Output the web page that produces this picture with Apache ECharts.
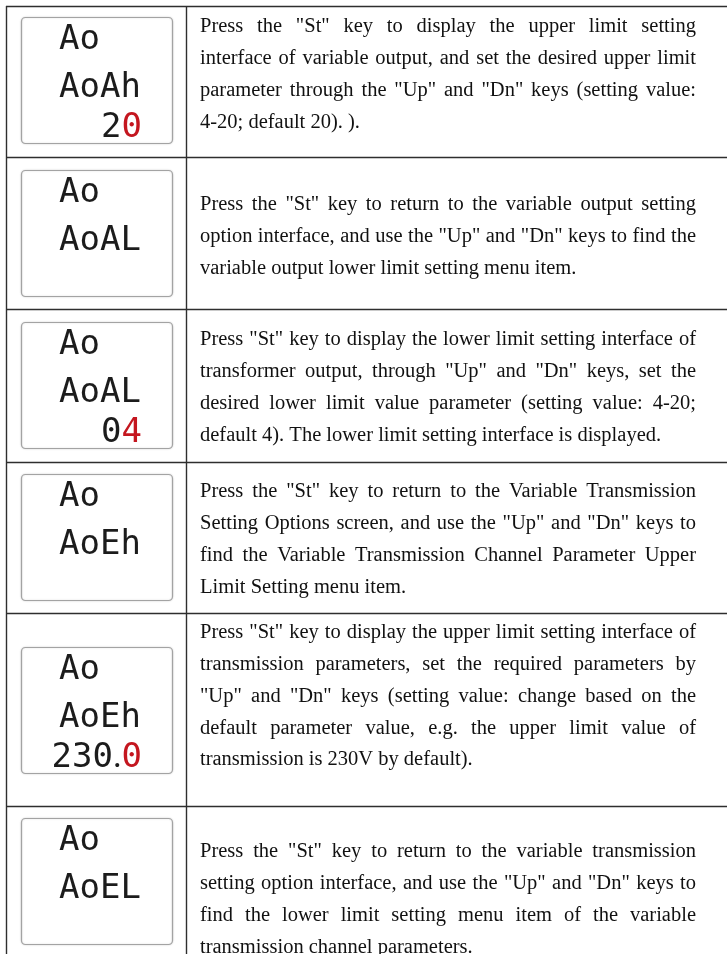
<!DOCTYPE html>
<html><head><meta charset="utf-8">
<script src="https://cdn.jsdelivr.net/npm/echarts@6/dist/echarts.min.js"></script>
<style>html,body{margin:0;padding:0;background:#fff}#c{width:727px;height:954px}</style>
</head><body><div id="c"></div>
<script>
// ---- content ----
const lcdLine1 = ['Ao', 'Ao', 'Ao', 'Ao', 'Ao', 'Ao'];
const lcdLine2 = ['AoAh', 'AoAL', 'AoAL', 'AoEh', 'AoEh', 'AoEL'];
const lcdValue = ['20', '', '04', '', '230.0', ''];
const descRow1 = ['Press the "St" key to display the upper limit setting',
  'interface of variable output, and set the desired upper limit',
  'parameter through the "Up" and "Dn" keys (setting value:',
  '4-20; default 20). ).'];
const descRow2 = ['Press the "St" key to return to the variable output setting',
  'option interface, and use the "Up" and "Dn" keys to find the',
  'variable output lower limit setting menu item.'];
const descRow3 = ['Press "St" key to display the lower limit setting interface of',
  'transformer output, through "Up" and "Dn" keys, set the',
  'desired lower limit value parameter (setting value: 4-20;',
  'default 4). The lower limit setting interface is displayed.'];
const descRow4 = ['Press the "St" key to return to the Variable Transmission',
  'Setting Options screen, and use the "Up" and "Dn" keys to',
  'find the Variable Transmission Channel Parameter Upper',
  'Limit Setting menu item.'];
const descRow5 = ['Press "St" key to display the upper limit setting interface of',
  'transmission parameters, set the required parameters by',
  '"Up" and "Dn" keys (setting value: change based on the',
  'default parameter value, e.g. the upper limit value of',
  'transmission is 230V by default).'];
const descRow6 = ['Press the "St" key to return to the variable transmission',
  'setting option interface, and use the "Up" and "Dn" keys to',
  'find the lower limit setting menu item of the variable',
  'transmission channel parameters.'];
const descRows = [descRow1, descRow2, descRow3, descRow4, descRow5, descRow6];

// ---- layout ----
const rowLineY = [6, 157, 309, 462, 613, 806];
const lcdTop = [17, 170, 322, 474, 647, 818];
const firstBaseline = [34, 212, 347, 499, 640, 859];
const LEFT = 6, DIV = 186, RIGHT = 727, BOTTOM = 954;
const TX0 = 200, TX1 = 696, LH = 31.7, FS = 20.5, FF = 'Liberation Serif';
const LCD_X = 21, LCD_W = 151, LCD_H = 126, LCD_FS = 34, LCD_FF = 'DejaVu Sans Mono';
const lineColor = '#2e2e2e';

const g = [];
// table lines
rowLineY.forEach(y => g.push({type: 'line', shape: {x1: LEFT, y1: y + 0.5, x2: RIGHT, y2: y + 0.5},
  style: {stroke: lineColor, lineWidth: 1.4}}));
[LEFT, DIV].forEach(x => g.push({type: 'line', shape: {x1: x + 0.5, y1: rowLineY[0], x2: x + 0.5, y2: BOTTOM},
  style: {stroke: lineColor, lineWidth: 1.4}}));

// LCD panels
lcdTop.forEach((t, i) => {
  g.push({type: 'rect', shape: {x: LCD_X + 0.5, y: t + 0.5, width: LCD_W, height: LCD_H, r: 4},
    style: {fill: '#fff', stroke: '#a3a3a3', lineWidth: 1.2, shadowBlur: 2, shadowColor: 'rgba(0,0,0,0.15)'}});
  const mid = LCD_FS * 0.346;
  g.push({type: 'text', x: 59, y: t + 35 - mid, style: {text: lcdLine1[i], fontSize: LCD_FS, fontFamily: LCD_FF,
    fill: '#1c1c1c', align: 'left', verticalAlign: 'middle'}});
  g.push({type: 'text', x: 59, y: t + 83 - mid, style: {text: lcdLine2[i], fontSize: LCD_FS, fontFamily: LCD_FF,
    fill: '#1c1c1c', align: 'left', verticalAlign: 'middle'}});
  const v = lcdValue[i];
  if (v) {
    const red = v.slice(-1);
    let blk = v.slice(0, -1);
    let dot = '';
    if (blk.endsWith('.')) { dot = '.'; blk = blk.slice(0, -1); }
    let txt = '{k|' + blk + '}' + (dot ? '{d|.}' : '') + '{r|' + red + '}';
    g.push({type: 'text', x: 142, y: t + 123 - mid, style: {text: txt, align: 'right', verticalAlign: 'middle',
      rich: {
        k: {fontSize: LCD_FS, fontFamily: LCD_FF, fill: '#1c1c1c', lineHeight: 40},
        d: {fontSize: LCD_FS, fontFamily: 'Liberation Sans Narrow', fill: '#1c1c1c', lineHeight: 40},
        r: {fontSize: LCD_FS, fontFamily: LCD_FF, fill: '#c4161f', lineHeight: 40}
      }}});
  }
});

// justified description text
const ctx = document.createElement('canvas').getContext('2d');
ctx.font = FS + 'px "' + FF + '"';
const spaceW = ctx.measureText(' ').width;
descRows.forEach((lines, ri) => {
  lines.forEach((line, li) => {
    const words = line.split(' ');
    const ws = words.map(w => ctx.measureText(w).width);
    const sum = ws.reduce((a, b) => a + b, 0);
    const last = li === lines.length - 1;
    const gap = (!last && words.length > 1) ? (TX1 - TX0 - sum) / (words.length - 1) : spaceW;
    const y = firstBaseline[ri] + li * LH - FS * 0.3375;
    let x = TX0;
    words.forEach((w, wi) => {
      g.push({type: 'text', x: x, y: y, style: {text: w, fontSize: FS, fontFamily: FF, fill: '#111',
        align: 'left', verticalAlign: 'middle'}});
      x += ws[wi] + gap;
    });
  });
});

const chart = echarts.init(document.getElementById('c'), null, {renderer: 'canvas'});
chart.setOption({backgroundColor: '#fff', animation: false, graphic: {elements: g}});
</script></body></html>
